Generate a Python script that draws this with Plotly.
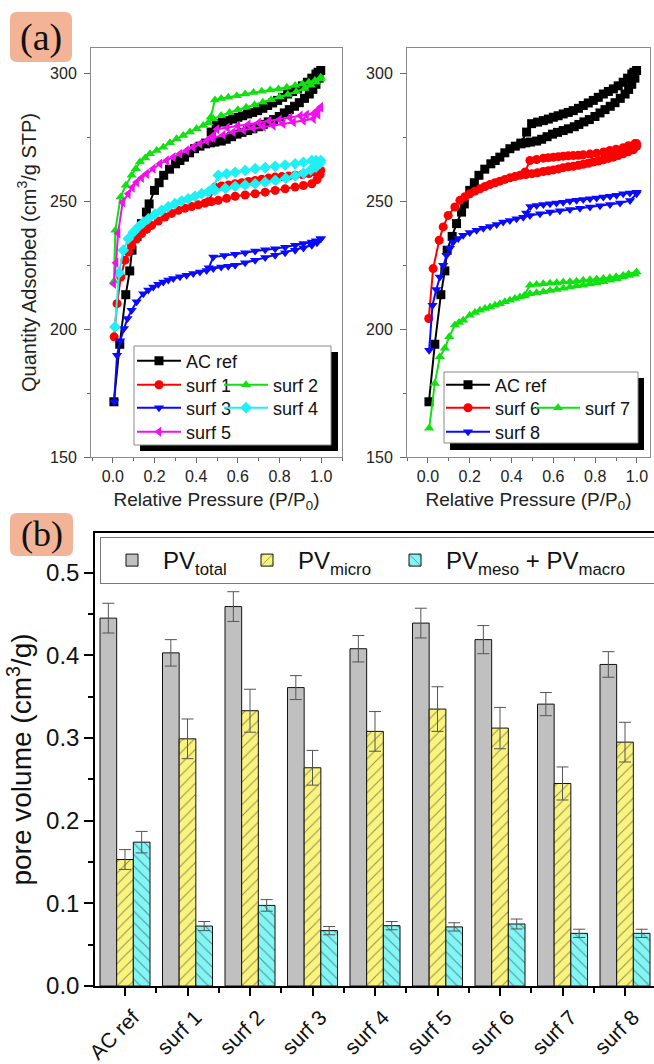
import plotly.graph_objects as go

W, H = 654, 1064
FONT = "Arial, Liberation Sans, sans-serif"
SERIF = "Times New Roman, Liberation Serif, serif"

# ---------------- isotherm data (P/P0, quantity adsorbed cm3/g STP) ----------------
acref_p_ads = [0.005, 0.033, 0.062, 0.081, 0.092, 0.116, 0.137, 0.161, 0.174, 0.20, 0.222, 0.244, 0.272, 0.301,
               0.322, 0.344, 0.368, 0.392, 0.418, 0.445, 0.468, 0.49, 0.52, 0.544, 0.57, 0.596, 0.62, 0.647,
               0.672, 0.70, 0.722, 0.746, 0.772, 0.799, 0.823, 0.847, 0.872, 0.895, 0.92, 0.943, 0.96, 0.975, 0.99]
acref_q_ads = [171.6, 194.1, 213.5, 222.8, 230.9, 236.3, 241.3, 245.8, 249.0, 254.3, 257.3, 260.2, 262.6, 264.7,
               266.0, 267.3, 269.0, 270.6, 271.6, 272.5, 272.9, 273.2, 273.6, 274.3, 275.3, 276.3, 277.0, 277.7,
               278.4, 279.2, 280.1, 281.1, 282.0, 283.2, 284.6, 285.9, 287.2, 288.6, 290.3, 292.0, 293.8, 295.8, 298.2]
acref_p_des = [0.998, 0.985, 0.975, 0.955, 0.934, 0.91, 0.887, 0.863, 0.839, 0.815, 0.791, 0.767, 0.743, 0.72,
               0.695, 0.671, 0.647, 0.623, 0.6, 0.576, 0.552, 0.525, 0.496, 0.472, 0.445]
acref_q_des = [301.2, 300.5, 299.8, 298.2, 296.6, 295.2, 294.0, 293.0, 292.0, 290.7, 289.5, 288.5, 287.5, 286.4,
               285.5, 284.8, 284.2, 283.5, 282.9, 282.2, 281.6, 281.0, 280.4, 277.1, 272.8]

surf1_p_ads = [0.006, 0.02, 0.038, 0.058, 0.075, 0.09, 0.113, 0.138, 0.162, 0.186, 0.218, 0.25, 0.282, 0.314,
               0.346, 0.378, 0.41, 0.442, 0.474, 0.506, 0.546, 0.587, 0.635, 0.683, 0.731, 0.779, 0.827, 0.875,
               0.915, 0.955, 0.98, 0.995]
surf1_q_ads = [197.0, 210.0, 220.4, 227.0, 230.2, 232.8, 235.3, 237.4, 239.1, 240.6, 242.3, 243.9, 245.3, 246.5,
               247.3, 248.0, 248.7, 249.3, 249.9, 250.4, 251.2, 252.0, 252.5, 253.0, 253.6, 254.3, 254.9, 255.6,
               256.2, 256.9, 258.5, 260.5]
surf1_p_des = [0.998, 0.97, 0.94, 0.91, 0.875, 0.843, 0.811, 0.779, 0.747, 0.715, 0.683, 0.651, 0.619, 0.587,
               0.555, 0.522, 0.49, 0.46]
surf1_q_des = [262.1, 261.4, 260.9, 260.5, 260.2, 259.9, 259.7, 259.5, 259.1, 258.7, 258.2, 257.8, 257.3, 256.9,
               256.4, 256.0, 255.6, 250.0]

surf2_p_ads = [0.005, 0.012, 0.037, 0.062, 0.09, 0.11, 0.13, 0.155, 0.178, 0.21, 0.242, 0.274, 0.306, 0.338,
               0.37, 0.402, 0.434, 0.458, 0.482, 0.52, 0.56, 0.6, 0.64, 0.68, 0.72, 0.76, 0.8, 0.84, 0.88, 0.92,
               0.95, 0.975, 0.995]
surf2_q_ads = [218.8, 238.7, 251.7, 256.3, 260.2, 262.8, 265.4, 267.0, 268.6, 269.9, 271.2, 272.9, 274.5, 275.8,
               277.1, 278.4, 279.7, 280.8, 282.3, 283.6, 284.8, 285.8, 286.8, 287.8, 288.8, 289.8, 290.8, 291.8,
               292.9, 294.2, 295.4, 296.6, 298.0]
surf2_p_des = [0.998, 0.97, 0.94, 0.91, 0.875, 0.835, 0.795, 0.755, 0.715, 0.675, 0.635, 0.595, 0.554, 0.52,
               0.49, 0.47]
surf2_q_des = [298.6, 297.3, 296.6, 295.9, 295.3, 294.6, 294.0, 293.6, 293.1, 292.6, 292.0, 291.3, 290.7, 290.2,
               289.7, 283.0]

surf3_p_ads = [0.006, 0.02, 0.035, 0.053, 0.07, 0.09, 0.114, 0.146, 0.17, 0.194, 0.218, 0.242, 0.266, 0.29,
               0.322, 0.354, 0.386, 0.418, 0.45, 0.482, 0.52, 0.554, 0.587, 0.635, 0.683, 0.731, 0.779, 0.827,
               0.875, 0.915, 0.955, 0.98, 0.998]
surf3_q_ads = [171.6, 189.8, 195.5, 200.3, 204.2, 207.4, 210.7, 213.9, 215.3, 216.5, 217.6, 218.5, 219.2, 219.8,
               220.5, 221.1, 221.8, 222.4, 223.0, 223.7, 224.3, 224.6, 225.0, 226.0, 227.0, 228.0, 228.9, 229.9,
               230.9, 231.8, 232.8, 233.8, 235.4]
surf3_p_des = [0.998, 0.975, 0.955, 0.915, 0.875, 0.827, 0.779, 0.731, 0.683, 0.635, 0.587, 0.535, 0.482, 0.46]
surf3_q_des = [235.4, 234.6, 234.1, 233.5, 232.8, 232.1, 231.5, 231.1, 230.6, 229.9, 229.3, 228.8, 228.2, 224.0]

surf4_p_ads = [0.01, 0.03, 0.05, 0.074, 0.098, 0.122, 0.146, 0.17, 0.202, 0.234, 0.266, 0.298, 0.33, 0.362,
               0.394, 0.426, 0.458, 0.49, 0.54, 0.587, 0.635, 0.683, 0.731, 0.78, 0.83, 0.875, 0.915, 0.95,
               0.975, 0.995]
surf4_q_ads = [200.9, 222.0, 230.9, 235.4, 237.9, 240.0, 241.7, 243.2, 245.0, 246.5, 247.9, 249.1, 250.1, 251.0,
               252.0, 253.0, 253.7, 254.3, 255.1, 255.9, 256.4, 256.9, 257.5, 258.2, 259.0, 260.0, 261.0, 262.3,
               263.4, 265.0]
surf4_p_des = [0.998, 0.975, 0.955, 0.915, 0.875, 0.827, 0.779, 0.731, 0.683, 0.635, 0.587, 0.546, 0.506, 0.48]
surf4_q_des = [266.0, 266.0, 266.0, 265.3, 264.7, 264.2, 263.7, 263.2, 262.8, 262.1, 261.4, 260.8, 260.2, 255.0]

surf5_p_ads = [0.004, 0.015, 0.025, 0.047, 0.074, 0.094, 0.114, 0.138, 0.162, 0.194, 0.226, 0.258, 0.29, 0.322,
               0.354, 0.386, 0.418, 0.45, 0.482, 0.53, 0.578, 0.627, 0.675, 0.722, 0.77, 0.818, 0.867, 0.915,
               0.963, 0.985, 0.998]
surf5_q_ads = [217.8, 226.0, 237.5, 249.7, 253.0, 255.4, 257.5, 259.2, 260.8, 262.8, 264.7, 266.0, 267.3, 268.6,
               269.9, 271.2, 272.5, 273.7, 274.9, 276.0, 277.1, 277.9, 278.6, 279.2, 279.7, 280.3, 281.0, 281.6,
               282.3, 284.0, 286.8]
surf5_p_des = [0.998, 0.98, 0.963, 0.93, 0.9, 0.85, 0.8, 0.75, 0.7, 0.65, 0.6, 0.55, 0.5, 0.47]
surf5_q_des = [286.8, 285.5, 284.3, 283.9, 283.5, 282.7, 282.0, 281.4, 280.8, 280.1, 279.5, 278.8, 278.2, 275.0]

surf6_p_ads = [0.004, 0.025, 0.054, 0.073, 0.097, 0.129, 0.153, 0.177, 0.2, 0.225, 0.249, 0.273, 0.297, 0.321,
               0.344, 0.368, 0.392, 0.416, 0.44, 0.468, 0.496, 0.524, 0.552, 0.576, 0.6, 0.624, 0.647, 0.671,
               0.695, 0.719, 0.743, 0.767, 0.791, 0.815, 0.839, 0.863, 0.887, 0.91, 0.934, 0.958, 0.982, 0.998]
surf6_q_ads = [204.2, 223.7, 234.8, 240.0, 244.5, 247.8, 250.4, 251.8, 253.0, 254.0, 254.9, 255.8, 256.6, 257.3,
               257.9, 258.6, 259.2, 259.7, 260.2, 260.5, 260.8, 261.2, 261.7, 262.0, 262.3, 262.7, 263.2, 263.5,
               263.7, 264.1, 264.5, 264.9, 265.4, 265.8, 266.3, 266.8, 267.3, 267.9, 268.6, 269.4, 270.2, 271.5]
surf6_p_des = [0.998, 0.99, 0.96, 0.934, 0.9, 0.87, 0.84, 0.807, 0.775, 0.743, 0.719, 0.695, 0.671, 0.647,
               0.624, 0.6, 0.576, 0.552, 0.52, 0.488, 0.465]
surf6_q_des = [272.6, 272.6, 271.8, 271.0, 270.4, 269.9, 269.3, 268.8, 268.5, 268.2, 268.0, 267.9, 267.8, 267.7,
               267.5, 267.3, 267.1, 266.9, 266.4, 266.0, 261.5]

surf7_p_ads = [0.006, 0.033, 0.057, 0.081, 0.102, 0.129, 0.149, 0.169, 0.2, 0.225, 0.249, 0.273, 0.297, 0.321,
               0.344, 0.368, 0.392, 0.416, 0.44, 0.464, 0.488, 0.52, 0.552, 0.584, 0.616, 0.648, 0.679, 0.711,
               0.743, 0.775, 0.807, 0.839, 0.871, 0.903, 0.934, 0.962, 0.99]
surf7_q_ads = [161.2, 178.8, 189.2, 192.5, 197.0, 201.6, 202.6, 203.5, 205.5, 206.5, 207.4, 208.1, 208.7, 209.4,
               210.0, 210.7, 211.3, 212.0, 212.6, 213.3, 213.9, 214.3, 214.6, 215.1, 215.5, 216.0, 216.5, 216.9,
               217.2, 217.7, 218.1, 218.6, 219.1, 219.7, 220.4, 221.0, 221.5]
surf7_p_des = [0.998, 0.96, 0.934, 0.9, 0.87, 0.839, 0.807, 0.775, 0.743, 0.711, 0.679, 0.647, 0.616, 0.584,
               0.552, 0.52, 0.488, 0.46]
surf7_q_des = [222.4, 221.6, 221.0, 220.5, 220.1, 219.8, 219.6, 219.3, 219.1, 218.8, 218.6, 218.5, 218.2, 218.0,
               217.8, 217.5, 217.2, 213.0]

surf8_p_ads = [0.006, 0.022, 0.04, 0.057, 0.073, 0.089, 0.105, 0.121, 0.145, 0.169, 0.2, 0.233, 0.265, 0.297,
               0.329, 0.36, 0.392, 0.424, 0.456, 0.488, 0.536, 0.584, 0.631, 0.679, 0.727, 0.775, 0.823, 0.871,
               0.919, 0.967, 0.998]
surf8_q_ads = [191.8, 209.4, 215.5, 220.4, 225.0, 228.9, 231.7, 234.1, 235.5, 236.7, 237.8, 238.7, 239.5, 240.2,
               241.0, 241.9, 242.5, 243.2, 243.8, 244.5, 245.2, 245.8, 246.3, 246.8, 247.3, 247.8, 248.3, 248.8,
               249.4, 250.3, 253.0]
surf8_p_des = [0.998, 0.966, 0.934, 0.902, 0.871, 0.839, 0.807, 0.775, 0.743, 0.711, 0.679, 0.647, 0.615, 0.584,
               0.552, 0.52, 0.49, 0.47]
surf8_q_des = [253.6, 253.3, 253.0, 252.4, 252.0, 251.7, 251.3, 251.0, 250.7, 250.4, 250.1, 249.7, 249.4, 249.1,
               248.8, 248.4, 248.0, 245.5]

# ---------------- pore volume data (cm3/g) ----------------
categories = ["AC ref", "surf 1", "surf 2", "surf 3", "surf 4", "surf 5", "surf 6", "surf 7", "surf 8"]
pv_total = [0.445, 0.403, 0.459, 0.361, 0.408, 0.439, 0.419, 0.341, 0.389]
pv_total_err = [0.018, 0.016, 0.018, 0.0145, 0.016, 0.018, 0.017, 0.014, 0.0155]
pv_micro = [0.153, 0.299, 0.333, 0.264, 0.308, 0.335, 0.312, 0.245, 0.295]
pv_micro_err = [0.012, 0.024, 0.026, 0.021, 0.024, 0.027, 0.025, 0.020, 0.024]
pv_mesomacro = [0.174, 0.0725, 0.0975, 0.067, 0.073, 0.0715, 0.075, 0.0637, 0.0637]
pv_mesomacro_err = [0.013, 0.0055, 0.007, 0.005, 0.005, 0.005, 0.006, 0.005, 0.005]


def X(px):
    return px / W


def Y(py):
    return 1 - py / H


fig = go.Figure()

# (name, p_ads, q_ads, p_des, q_des, color, symbol, axes, legend_id)
iso_series = [
    ("AC ref", acref_p_ads, acref_q_ads, acref_p_des, acref_q_des, "#000000", "square", ("x", "y"), "legend"),
    ("surf 1", surf1_p_ads, surf1_q_ads, surf1_p_des, surf1_q_des, "#ff0000", "circle", ("x", "y"), "legend2"),
    ("surf 2", surf2_p_ads, surf2_q_ads, surf2_p_des, surf2_q_des, "#11e011", "triangle-up", ("x", "y"), "legend3"),
    ("surf 3", surf3_p_ads, surf3_q_ads, surf3_p_des, surf3_q_des, "#0a0aff", "triangle-down", ("x", "y"), "legend4"),
    ("surf 4", surf4_p_ads, surf4_q_ads, surf4_p_des, surf4_q_des, "#1ef0f5", "diamond", ("x", "y"), "legend5"),
    ("surf 5", surf5_p_ads, surf5_q_ads, surf5_p_des, surf5_q_des, "#f010f0", "triangle-left", ("x", "y"), "legend6"),
    ("AC ref", acref_p_ads, acref_q_ads, acref_p_des, acref_q_des, "#000000", "square", ("x2", "y2"), "legend7"),
    ("surf 6", surf6_p_ads, surf6_q_ads, surf6_p_des, surf6_q_des, "#ff0000", "circle", ("x2", "y2"), "legend8"),
    ("surf 7", surf7_p_ads, surf7_q_ads, surf7_p_des, surf7_q_des, "#11e011", "triangle-up", ("x2", "y2"), "legend9"),
    ("surf 8", surf8_p_ads, surf8_q_ads, surf8_p_des, surf8_q_des, "#0a0aff", "triangle-down", ("x2", "y2"), "legend10"),
]

for name, pa, qa, pd_, qd, col, sym, (xa, ya), lg in iso_series:
    fig.add_trace(go.Scatter(
        x=list(pa) + list(pd_), y=list(qa) + list(qd), name=name, mode="lines+markers",
        line=dict(color=col, width=2), marker=dict(color=col, symbol=sym, size=9, line=dict(width=0)),
        xaxis=xa, yaxis=ya, legend=lg, showlegend=True))

pos = list(range(len(categories)))
bounds = [p + 0.5 for p in pos] + [pos[0] - 0.5]
halfsteps = sorted(set(pos + bounds))

bar_specs = [
    ("PV<sub>total</sub>", pv_total, pv_total_err, "#c0c0c0", None, 68),
    ("PV<sub>micro</sub>", pv_micro, pv_micro_err, "#faf47e", "/", 81),
    ("PV<sub>meso</sub> + PV<sub>macro</sub>", pv_mesomacro, pv_mesomacro_err, "#82f5f5", "\\", 208),
]
for name, vals, errs, col, shape, lw in bar_specs:
    marker = dict(color=col, line=dict(color="#111111", width=1))
    if shape:
        marker["pattern"] = dict(shape=shape, fgcolor="#333333", size=8, solidity=0.14, fillmode="overlay")
    fig.add_trace(go.Bar(
        x=pos, y=vals, name=name, marker=marker,
        error_y=dict(type="data", array=errs, visible=True, color="#555555", thickness=1, width=6),
        xaxis="x3", yaxis="y3", legend="legend11", legendwidth=lw))

# ---------------- axes ----------------
GRAY = "#8a8a8a"
TCOL = "#666666"


def iso_x(domain, rng):
    return dict(domain=domain, range=rng, tickmode="linear", tick0=0, dtick=0.2, tickformat=".1f",
                ticks="outside", ticklen=5, tickwidth=1, tickcolor=TCOL,
                showline=True, linecolor=GRAY, linewidth=1, mirror=True,
                showgrid=False, zeroline=False, tickfont=dict(size=16, color="#222222", family=FONT),
                minor=dict(tick0=0, dtick=0.1, ticks="outside", ticklen=3, tickcolor=TCOL, showgrid=False),
                title=dict(text="Relative Pressure (P/P<sub>0</sub>)", font=dict(size=19, color="#222222", family=FONT),
                           standoff=8))


def iso_y(domain, anchor, title=None):
    d = dict(domain=domain, anchor=anchor, range=[150, 310], tickmode="linear", tick0=150, dtick=50,
             ticks="outside", ticklen=6, tickwidth=1, tickcolor=TCOL, ticklabelstandoff=4,
             showline=True, linecolor=GRAY, linewidth=1, mirror=True,
             showgrid=False, zeroline=False, tickfont=dict(size=16, color="#222222", family=FONT),
             minor=dict(tick0=150, dtick=25, ticks="outside", ticklen=3, tickcolor=TCOL, showgrid=False))
    if title:
        d["title"] = dict(text=title, font=dict(size=20, color="#222222", family=FONT), standoff=8)
    return d


def inner_x(over, anchor, rng, dtick, minor_dtick, ticklen, color, tickvals=None):
    d = dict(overlaying=over, anchor=anchor, side="top", range=rng, ticks="inside", ticklen=ticklen,
             tickcolor=color, showticklabels=False, showline=False, showgrid=False, zeroline=False)
    if tickvals is not None:
        d.update(tickmode="array", tickvals=tickvals)
    else:
        d.update(tickmode="linear", tick0=0, dtick=dtick,
                 minor=dict(tick0=0, dtick=minor_dtick, ticks="inside", ticklen=3, tickcolor=color))
    return d


def inner_y(over, anchor, rng, tick0, dtick, minor_dtick, ticklen, minlen, color):
    return dict(overlaying=over, anchor=anchor, side="right", range=rng, tickmode="linear", tick0=tick0,
                dtick=dtick, ticks="inside", ticklen=ticklen, tickcolor=color, showticklabels=False,
                showline=False, showgrid=False, zeroline=False,
                minor=dict(tick0=tick0, dtick=minor_dtick, ticks="inside", ticklen=minlen, tickcolor=color))


iso_dom_y = [Y(457), Y(48)]
left_dom = [X(91), X(342)]
right_dom = [X(407), X(650)]
left_rng = [-0.105, 1.1]
right_rng = [-0.1, (650 - 428) / 209]

bar_dom_x = [X(95), 1.0]
bar_dom_y = [Y(986), Y(533)]
bar_xrng = [-0.48, 8.464]
bar_yrng = [0, 0.548]

layout_axes = dict(
    xaxis=dict(anchor="y", **iso_x(left_dom, left_rng)),
    yaxis=iso_y(iso_dom_y, "x", "Quantity Adsorbed (cm<sup>3</sup>/g STP)"),
    xaxis2=dict(anchor="y2", **iso_x(right_dom, right_rng)),
    yaxis2=iso_y(iso_dom_y, "x2"),
    xaxis3=dict(domain=bar_dom_x, anchor="y3", range=bar_xrng, tickmode="array", tickvals=pos, ticktext=categories,
                tickangle=-45, tickfont=dict(size=21, color="#111111", family=FONT),
                ticklabelshift=8, ticklabelstandoff=1,
                ticks="outside", ticklen=8, tickwidth=1.5, tickcolor="#000000",
                showline=True, linecolor="#000000", linewidth=1.5, mirror=True, showgrid=False, zeroline=False,
                minor=dict(tickmode="array", tickvals=bounds, ticks="outside", ticklen=5, tickwidth=1.5,
                           tickcolor="#000000")),
    yaxis3=dict(domain=bar_dom_y, anchor="x3", range=bar_yrng, tickmode="linear", tick0=0, dtick=0.1,
                tickformat=".1f", ticks="outside", ticklen=9, tickwidth=1.5, tickcolor="#000000",
                showline=True, linecolor="#000000", linewidth=1.5, mirror=True, showgrid=False, zeroline=False,
                tickfont=dict(size=24, color="#111111", family=FONT),
                minor=dict(tick0=0, dtick=0.05, ticks="outside", ticklen=5, tickwidth=1.5, tickcolor="#000000"),
                title=dict(text="pore volume (cm<sup>3</sup>/g)", font=dict(size=28, color="#111111", family=FONT),
                           standoff=6)),
    xaxis4=inner_x("x", "y", left_rng, 0.2, 0.1, 5, TCOL),
    yaxis4=inner_y("y", "x", [150, 310], 150, 50, 25, 6, 3, TCOL),
    xaxis5=inner_x("x2", "y2", right_rng, 0.2, 0.1, 5, TCOL),
    yaxis5=inner_y("y2", "x2", [150, 310], 150, 50, 25, 6, 3, TCOL),
    xaxis6=inner_x("x3", "y3", bar_xrng, None, None, 5, "#000000", tickvals=halfsteps),
    yaxis6=inner_y("y3", "x3", bar_yrng, 0, 0.1, 0.05, 8, 4, "#000000"),
)


# ---------------- legends ----------------
def entry_legend(sym_x, row_y):
    return dict(x=X(sym_x - 5), y=Y(row_y), xanchor="left", yanchor="middle", orientation="v",
                bgcolor="rgba(0,0,0,0)", borderwidth=0, itemwidth=44,
                font=dict(size=18, color="#111111", family=FONT), itemclick=False, itemdoubleclick=False)


legend_pos = {
    "legend": (137, 361), "legend2": (137, 385), "legend3": (224, 385), "legend4": (137, 408),
    "legend5": (224, 408), "legend6": (137, 432),
    "legend7": (446, 385), "legend8": (446, 408), "legend9": (536, 408), "legend10": (446, 432),
}
legends = {k: entry_legend(*v) for k, v in legend_pos.items()}
legends["legend11"] = dict(x=X(100), y=Y(537), xanchor="left", yanchor="top", orientation="h",
                           bgcolor="#ffffff", bordercolor="#777777", borderwidth=1, itemwidth=52,
                           font=dict(size=24, color="#111111", family=FONT), itemclick=False,
                           itemdoubleclick=False, tracegroupgap=0)


# ---------------- decorations ----------------
def rrect(x0, y0, x1, y1, r):
    a0, a1 = X(x0), X(x1)
    b0, b1 = Y(y0), Y(y1)
    rx, ry = r / W, r / H
    return (f"M{a0 + rx},{b0} L{a1 - rx},{b0} Q{a1},{b0} {a1},{b0 - ry} L{a1},{b1 + ry} "
            f"Q{a1},{b1} {a1 - rx},{b1} L{a0 + rx},{b1} Q{a0},{b1} {a0},{b1 + ry} L{a0},{b0 - ry} "
            f"Q{a0},{b0} {a0 + rx},{b0} Z")


def prect(x0, y0, x1, y1, fill, line_color=None, lw=0):
    return dict(type="rect", xref="paper", yref="paper", x0=X(x0), x1=X(x1), y0=Y(y1), y1=Y(y0),
                fillcolor=fill, line=dict(color=line_color or fill, width=lw), layer="above")


shapes = [
    dict(type="path", xref="paper", yref="paper", path=rrect(10, 12, 72, 62, 7), fillcolor="#f3b397",
         line=dict(width=0), layer="above"),
    dict(type="path", xref="paper", yref="paper", path=rrect(10, 513, 73, 556, 7), fillcolor="#f3b397",
         line=dict(width=0), layer="above"),
    prect(140, 352, 338, 451, "#000000"),
    prect(134, 346, 331, 445, "#ffffff", "#8a8a8a", 1),
    prect(450, 378, 644, 450, "#000000"),
    prect(444, 372, 638, 443, "#ffffff", "#8a8a8a", 1),
]

annotations = [
    dict(text="(a)", x=X(41), y=Y(37), xref="paper", yref="paper", showarrow=False,
         font=dict(size=38, family=SERIF, color="#111111"), xanchor="center", yanchor="middle"),
    dict(text="(b)", x=X(41.5), y=Y(534), xref="paper", yref="paper", showarrow=False,
         font=dict(size=36, family=SERIF, color="#111111"), xanchor="center", yanchor="middle"),
]

fig.update_layout(
    width=W, height=H, margin=dict(l=0, r=0, t=0, b=0, pad=0, autoexpand=False),
    paper_bgcolor="#ffffff", plot_bgcolor="#ffffff",
    font=dict(family=FONT, color="#111111"),
    barmode="group", bargap=0.2, bargroupgap=0,
    shapes=shapes, annotations=annotations, showlegend=True,
    **layout_axes, **legends,
)

fig.write_html("out.html", config={"displayModeBar": False},
               post_script="document.body.style.margin='0px';")
